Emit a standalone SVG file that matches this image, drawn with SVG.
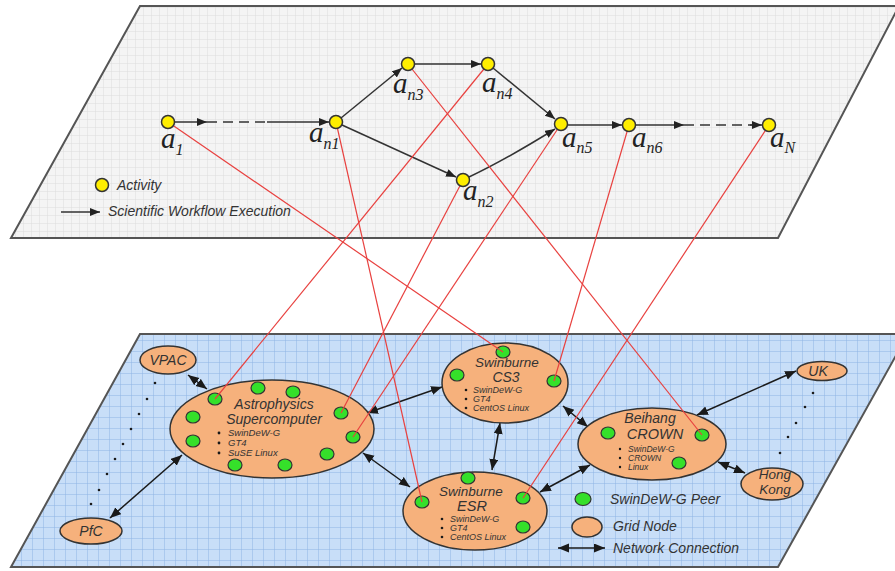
<svg xmlns="http://www.w3.org/2000/svg" width="895" height="571" viewBox="0 0 895 571">
<defs>
  <pattern id="gridTop" width="8" height="8" patternUnits="userSpaceOnUse">
    <rect width="8" height="8" fill="#f4f4f4"/>
    <path d="M8,0 V8 M0,8 H8" stroke="#dcdcdc" stroke-width="1" fill="none"/>
  </pattern>
  <pattern id="gridBot" width="11" height="11" patternUnits="userSpaceOnUse">
    <rect width="11" height="11" fill="#c8def8"/>
    <path d="M11,0 V11 M0,11 H11" stroke="#8fb4e4" stroke-width="1" fill="none"/>
  </pattern>
  <marker id="arr" markerWidth="11" markerHeight="9" refX="10" refY="4" orient="auto" markerUnits="userSpaceOnUse">
    <path d="M0,0 L10,4 L0,8 z" fill="#222"/>
  </marker>
  <marker id="net" markerWidth="12" markerHeight="10" refX="11" refY="4.5" orient="auto-start-reverse" markerUnits="userSpaceOnUse">
    <path d="M0,0 L11,4.5 L0,9 z" fill="#1a1a1a"/>
  </marker>
  <style>
    .plane { stroke: #555; stroke-width: 2; }
    .act { fill: #ffee00; stroke: #333; stroke-width: 1.5; }
    .flow { stroke: #333; stroke-width: 1.5; fill: none; }
    .map { stroke: #e8413f; stroke-width: 1.2; fill: none; }
    .gn { fill: #f6b17c; stroke: #333; stroke-width: 1.5; }
    .peer { fill: #35e02a; stroke: #333; stroke-width: 1.2; }
    .net { stroke: #1a1a1a; stroke-width: 1.5; fill: none; marker-start: url(#net); marker-end: url(#net); }
    .lbl { font-family: "Liberation Serif", serif; font-style: italic; font-size: 29px; fill: #222; }
    .sub { font-size: 16px; }
    .leg { font-family: "Liberation Sans", Arial, sans-serif; font-style: italic; font-size: 14px; fill: #333; }
    .title { font-family: "Liberation Sans", Arial, sans-serif; font-style: italic; font-size: 14px; fill: #333; text-anchor: middle; }
    .bl { font-family: "Liberation Sans", Arial, sans-serif; font-style: italic; font-size: 9px; fill: #333; }
    .dot { fill: #1a1a1a; }
  </style>
</defs>

<!-- planes -->
<polygon id="workflow-plane" class="plane" points="140,6 899,6 778,238 11,238" fill="url(#gridTop)"/>
<polygon id="grid-plane" class="plane" points="140,334 908,334 778,567 11,567" fill="url(#gridBot)" stroke="#333"/>

<!-- network connections -->
<g id="network-connectors">
  <line class="net" x1="188" y1="375" x2="207" y2="389"/>
  <line class="net" x1="110" y1="518" x2="182" y2="455"/>
  <line class="net" x1="367" y1="413" x2="442" y2="387"/>
  <line class="net" x1="363" y1="453" x2="410" y2="487"/>
  <line class="net" x1="500" y1="423" x2="492" y2="470"/>
  <line class="net" x1="563" y1="406" x2="588" y2="427"/>
  <line class="net" x1="540" y1="492" x2="590" y2="465"/>
  <line class="net" x1="697" y1="415" x2="796" y2="371"/>
  <line class="net" x1="718" y1="462" x2="745" y2="473"/>
</g>

<!-- dotted continuations -->
<g id="dots">
  <circle class="dot" cx="155" cy="383" r="1.3"/>
  <circle class="dot" cx="147" cy="399" r="1.3"/>
  <circle class="dot" cx="139" cy="414" r="1.3"/>
  <circle class="dot" cx="131" cy="429" r="1.3"/>
  <circle class="dot" cx="123" cy="444" r="1.3"/>
  <circle class="dot" cx="115" cy="459" r="1.3"/>
  <circle class="dot" cx="107" cy="474" r="1.3"/>
  <circle class="dot" cx="99" cy="490" r="1.3"/>
  <circle class="dot" cx="91" cy="504" r="1.3"/>
  <circle class="dot" cx="813" cy="393" r="1.3"/>
  <circle class="dot" cx="805" cy="407" r="1.3"/>
  <circle class="dot" cx="796" cy="423" r="1.3"/>
  <circle class="dot" cx="788" cy="437" r="1.3"/>
  <circle class="dot" cx="780" cy="453" r="1.3"/>
</g>

<!-- grid nodes -->
<g id="vpac">
  <ellipse class="gn" cx="168" cy="360" rx="28" ry="14"/>
  <text class="title" x="168" y="365">VPAC</text>
</g>
<g id="pfc">
  <ellipse class="gn" cx="91" cy="531" rx="31" ry="13"/>
  <text class="title" x="91" y="536">PfC</text>
</g>
<g id="uk">
  <ellipse class="gn" cx="822" cy="371" rx="25" ry="9.5"/>
  <text class="title" x="818" y="376">UK</text>
</g>
<g id="hong-kong">
  <ellipse class="gn" cx="772" cy="484" rx="31" ry="16"/>
  <text class="title" x="775" y="479" style="font-size:13.5px">Hong</text>
  <text class="title" x="775" y="494" style="font-size:13.5px">Kong</text>
</g>
<g id="astrophysics">
  <ellipse class="gn" cx="272" cy="429" rx="102" ry="49"/>
  <text class="title" x="274" y="409">Astrophysics</text>
  <text class="title" x="274" y="424">Supercomputer</text>
  <circle class="dot" cx="219" cy="433" r="1.4"/>
  <circle class="dot" cx="219" cy="443" r="1.4"/>
  <circle class="dot" cx="219" cy="453" r="1.4"/>
  <text class="bl" x="228" y="436" style="font-size:9.5px">SwinDeW-G</text>
  <text class="bl" x="228" y="446" style="font-size:9.5px">GT4</text>
  <text class="bl" x="228" y="456" style="font-size:9.5px">SuSE Linux</text>
  <ellipse class="peer" cx="258" cy="388" rx="7" ry="6"/>
  <ellipse class="peer" cx="293" cy="392" rx="7" ry="6"/>
  <ellipse class="peer" cx="215" cy="399" rx="7" ry="6"/>
  <ellipse class="peer" cx="193" cy="417" rx="7" ry="6"/>
  <ellipse class="peer" cx="193" cy="441" rx="7" ry="6"/>
  <ellipse class="peer" cx="341" cy="413" rx="7" ry="6"/>
  <ellipse class="peer" cx="353" cy="437" rx="7" ry="6"/>
  <ellipse class="peer" cx="327" cy="454" rx="7" ry="6"/>
  <ellipse class="peer" cx="235" cy="465" rx="7" ry="6"/>
  <ellipse class="peer" cx="285" cy="465" rx="7" ry="6"/>
</g>
<g id="swinburne-cs3">
  <ellipse class="gn" cx="505" cy="383" rx="63" ry="40"/>
  <text class="title" x="507" y="367" style="font-size:13.5px">Swinburne</text>
  <text class="title" x="506" y="382" style="font-size:14px">CS3</text>
  <circle class="dot" cx="466" cy="390" r="1.3"/>
  <circle class="dot" cx="466" cy="399" r="1.3"/>
  <circle class="dot" cx="466" cy="408" r="1.3"/>
  <text class="bl" x="473" y="393">SwinDeW-G</text>
  <text class="bl" x="473" y="402">GT4</text>
  <text class="bl" x="473" y="411">CentOS Linux</text>
  <ellipse class="peer" cx="503" cy="352" rx="7" ry="6"/>
  <ellipse class="peer" cx="457" cy="375" rx="7" ry="6"/>
  <ellipse class="peer" cx="554" cy="381" rx="7" ry="6"/>
</g>
<g id="beihang-crown">
  <ellipse class="gn" cx="652" cy="444" rx="74" ry="36"/>
  <text class="title" x="650" y="423">Beihang</text>
  <text class="title" x="655" y="439" style="font-size:14.5px">CROWN</text>
  <circle class="dot" cx="620" cy="449" r="1.2"/>
  <circle class="dot" cx="620" cy="458" r="1.2"/>
  <circle class="dot" cx="620" cy="467" r="1.2"/>
  <text class="bl" x="628" y="452" style="font-size:8.5px">SwinDeW-G</text>
  <text class="bl" x="628" y="461" style="font-size:8.5px">CROWN</text>
  <text class="bl" x="628" y="470" style="font-size:8.5px">Linux</text>
  <ellipse class="peer" cx="608" cy="433" rx="7" ry="6"/>
  <ellipse class="peer" cx="702" cy="435" rx="7" ry="6"/>
  <ellipse class="peer" cx="679" cy="463" rx="7" ry="6"/>
</g>
<g id="swinburne-esr">
  <ellipse class="gn" cx="475" cy="511" rx="72" ry="39"/>
  <text class="title" x="471" y="496" style="font-size:13.5px">Swinburne</text>
  <text class="title" x="472" y="511" style="font-size:14.5px">ESR</text>
  <circle class="dot" cx="442" cy="519" r="1.3"/>
  <circle class="dot" cx="442" cy="528" r="1.3"/>
  <circle class="dot" cx="442" cy="537" r="1.3"/>
  <text class="bl" x="450" y="522">SwinDeW-G</text>
  <text class="bl" x="450" y="531">GT4</text>
  <text class="bl" x="450" y="540">CentOS Linux</text>
  <ellipse class="peer" cx="468" cy="478" rx="7" ry="6"/>
  <ellipse class="peer" cx="422" cy="502" rx="7" ry="6"/>
  <ellipse class="peer" cx="523" cy="498" rx="7" ry="6"/>
  <ellipse class="peer" cx="523" cy="527" rx="7" ry="6"/>
</g>

<!-- bottom legend -->
<g id="legend-bottom">
  <ellipse class="peer" cx="583" cy="499" rx="8" ry="6.5"/>
  <text class="leg" x="610" y="504">SwinDeW-G Peer</text>
  <ellipse class="gn" cx="587" cy="527" rx="15" ry="10"/>
  <text class="leg" x="613" y="531">Grid Node</text>
  <line class="net" x1="558" y1="548" x2="605" y2="548"/>
  <text class="leg" x="613" y="553">Network Connection</text>
</g>

<!-- workflow connectors -->
<g id="workflow-connectors">
  <line class="flow" x1="175" y1="122" x2="207" y2="122" marker-end="url(#arr)"/>
  <line class="flow" x1="207" y1="122" x2="267" y2="122" stroke-dasharray="10 6"/>
  <line class="flow" x1="267" y1="122" x2="329" y2="122" marker-end="url(#arr)"/>
  <line class="flow" x1="341" y1="118" x2="402" y2="68" marker-end="url(#arr)"/>
  <line class="flow" x1="342" y1="125" x2="456" y2="177" marker-end="url(#arr)"/>
  <line class="flow" x1="415" y1="64" x2="481" y2="64" marker-end="url(#arr)"/>
  <line class="flow" x1="493" y1="68" x2="555" y2="119" marker-end="url(#arr)"/>
  <path class="flow" d="M469,177 Q505,160 555,129" marker-end="url(#arr)"/>
  <line class="flow" x1="568" y1="125" x2="622" y2="125" marker-end="url(#arr)"/>
  <line class="flow" x1="636" y1="125" x2="684" y2="125" marker-end="url(#arr)"/>
  <line class="flow" x1="684" y1="125" x2="752" y2="125" stroke-dasharray="10 6"/>
  <line class="flow" x1="750" y1="125" x2="762" y2="125" marker-end="url(#arr)"/>
</g>

<!-- top legend -->
<g id="legend-top">
  <circle class="act" cx="102" cy="185" r="6.5"/>
  <text class="leg" x="117" y="190">Activity</text>
  <line class="flow" x1="61" y1="212" x2="100" y2="212" marker-end="url(#arr)"/>
  <text class="leg" x="108" y="216">Scientific Workflow Execution</text>
</g>

<!-- mapping lines -->
<g id="mapping-connectors">
  <line class="map" x1="168" y1="122" x2="503" y2="352"/>
  <line class="map" x1="336" y1="122" x2="422" y2="502"/>
  <line class="map" x1="408" y1="64" x2="702" y2="435"/>
  <line class="map" x1="488" y1="64" x2="215" y2="399"/>
  <line class="map" x1="463" y1="180" x2="341" y2="413"/>
  <line class="map" x1="561" y1="124" x2="353" y2="437"/>
  <line class="map" x1="629" y1="125" x2="554" y2="381"/>
  <line class="map" x1="769" y1="125" x2="523" y2="498"/>
</g>

<!-- activities -->
<g id="a1">
  <circle class="act" cx="168" cy="122" r="6.5"/>
  <text class="lbl" x="161" y="148">a<tspan class="sub" dy="7">1</tspan></text>
</g>
<g id="an1">
  <circle class="act" cx="336" cy="122" r="6.5"/>
  <text class="lbl" x="309" y="142">a<tspan class="sub" dy="7">n1</tspan></text>
</g>
<g id="an3">
  <circle class="act" cx="408" cy="64" r="6.5"/>
  <text class="lbl" x="393" y="93">a<tspan class="sub" dy="7">n3</tspan></text>
</g>
<g id="an4">
  <circle class="act" cx="488" cy="64" r="6.5"/>
  <text class="lbl" x="482" y="92">a<tspan class="sub" dy="7">n4</tspan></text>
</g>
<g id="an2">
  <circle class="act" cx="463" cy="180" r="6.5"/>
  <text class="lbl" x="463" y="200">a<tspan class="sub" dy="7">n2</tspan></text>
</g>
<g id="an5">
  <circle class="act" cx="561" cy="124" r="6.5"/>
  <text class="lbl" x="562" y="147">a<tspan class="sub" dy="6">n5</tspan></text>
</g>
<g id="an6">
  <circle class="act" cx="629" cy="125" r="6.5"/>
  <text class="lbl" x="632" y="147">a<tspan class="sub" dy="6">n6</tspan></text>
</g>
<g id="aN">
  <circle class="act" cx="769" cy="125" r="6.5"/>
  <text class="lbl" x="770" y="147">a<tspan class="sub" dy="6">N</tspan></text>
</g>
</svg>
